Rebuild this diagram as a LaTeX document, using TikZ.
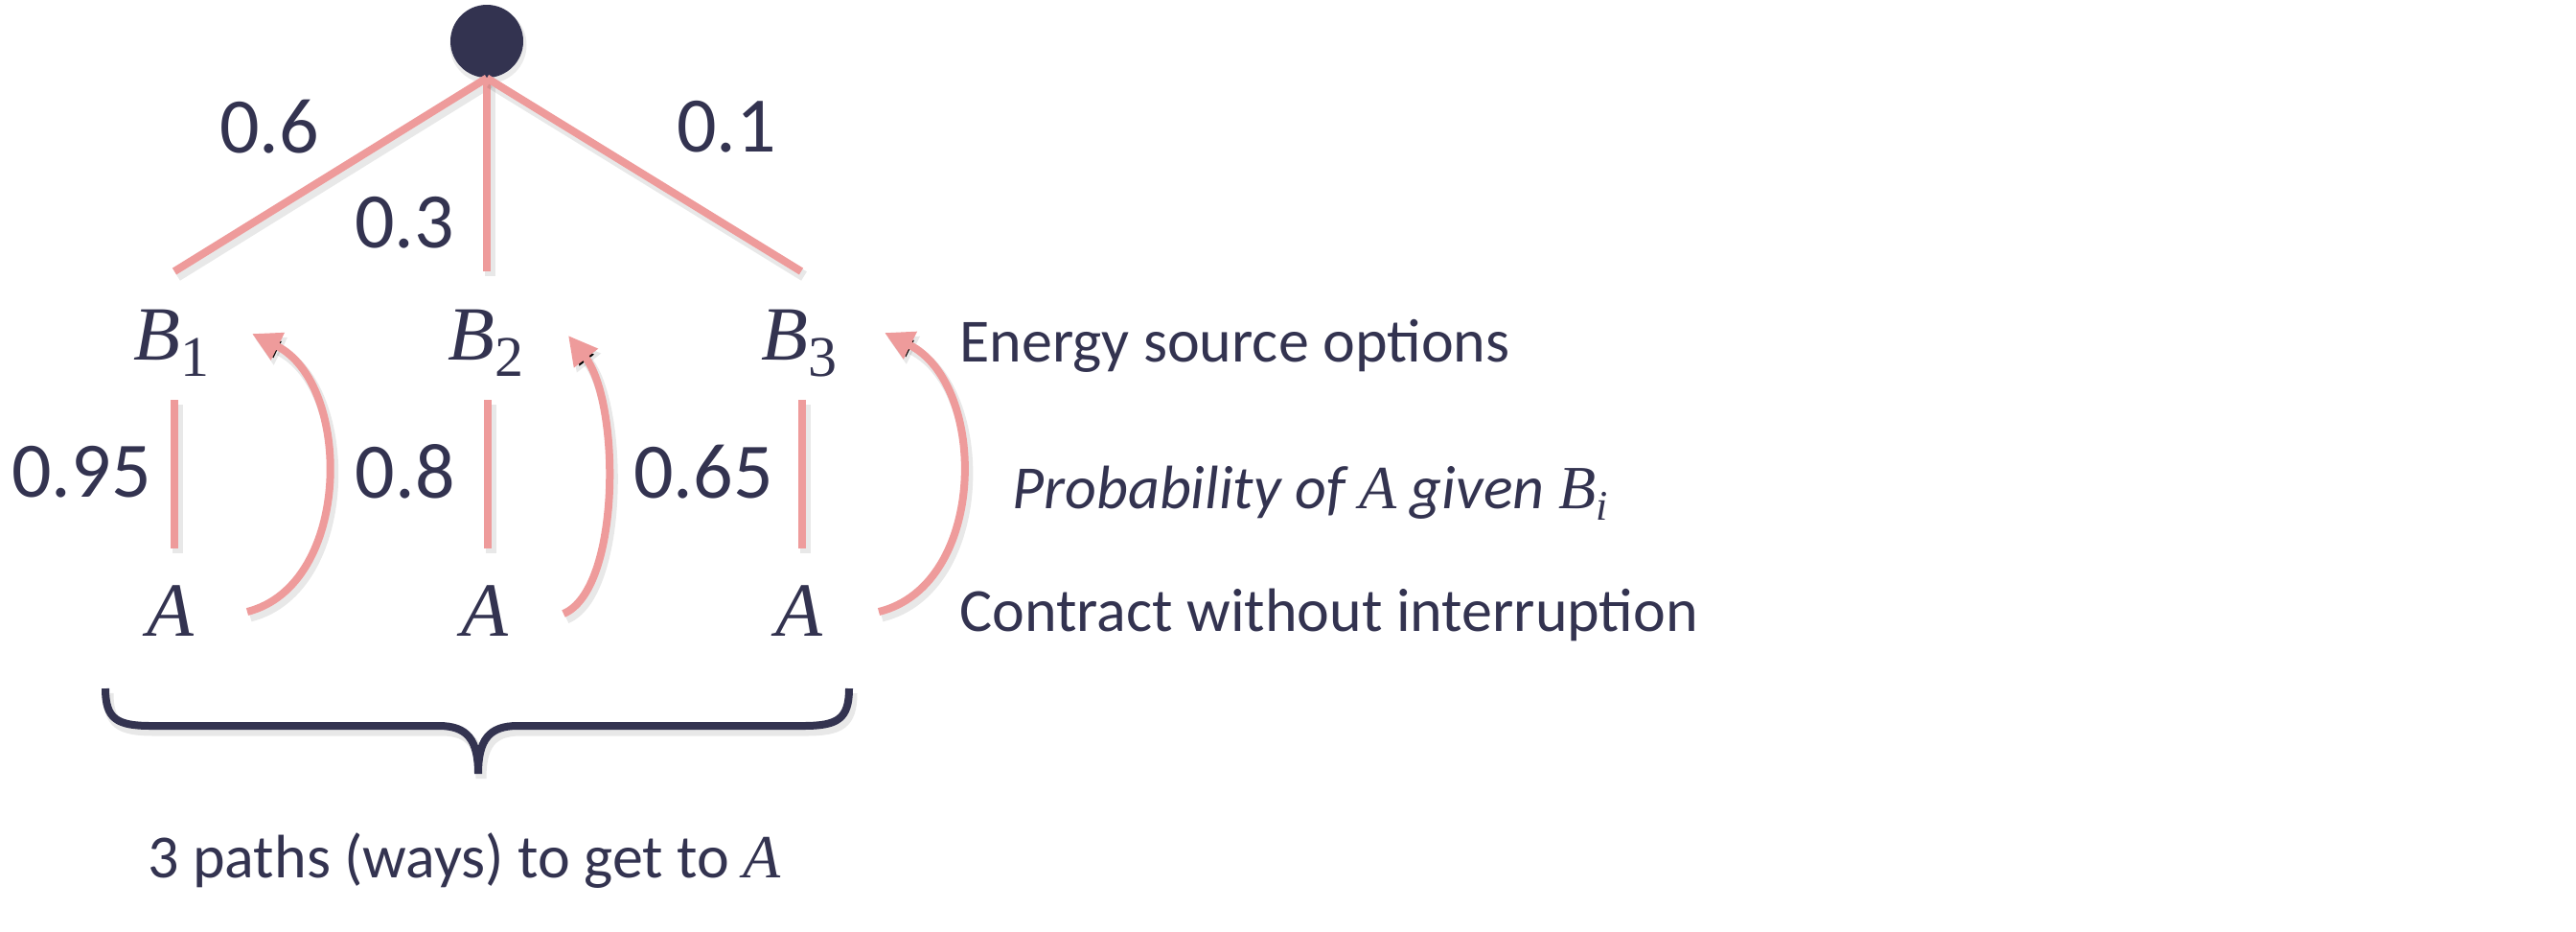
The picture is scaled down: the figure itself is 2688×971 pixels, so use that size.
\documentclass[tikz,border=0pt]{standalone}
\usepackage{fontspec}
\setmainfont{Carlito}
\newfontfamily\mathf{Liberation Serif}
\usetikzlibrary{arrows.meta}
\definecolor{navy}{HTML}{333350}
\definecolor{rose}{HTML}{EE9B9B}
\newcommand{\mvarB}[1]{{\mathf\itshape B}\raisebox{-8.5pt}{\mathf\upshape\fontsize{30}{30}\selectfont #1}}
\begin{document}
\begin{tikzpicture}[x=0.5pt,y=-0.5pt,
  shad/.style={preaction={draw=black,draw opacity=0.09,line width=5.5pt,transform canvas={shift={(1.5pt,-2.5pt)}}}},
  branch/.style={draw=rose,line width=4pt,shad},
  stem/.style={draw=rose,line width=3.6pt,shad},
  curvearrow/.style={draw=rose,line width=4pt,shad,-{Triangle[length=15pt,width=15pt]}},
  num/.style={font=\fontsize{41}{41}\selectfont,text=navy,inner sep=0},
  var/.style={font=\mathf\itshape\fontsize{40}{40}\selectfont,text=navy,inner sep=0,anchor=base},
  note/.style={font=\fontsize{32}{32}\selectfont,text=navy,inner sep=0,anchor=base west},
  bracestyle/.style={draw=navy,line width=4pt,shad}]
\useasboundingbox (0,0) rectangle (2688,971);
\fill[white] (0,0) rectangle (2688,971);

% root
\fill[black,opacity=0.08] (509.5,47) circle (20pt);
\node[circle,fill=navy,inner sep=0,minimum size=38pt] (root) at (508,43) {};

% tree branches
\coordinate (t1) at (182,283);
\coordinate (t2) at (508,283);
\coordinate (t3) at (836,283);
\draw[branch] (root.south) -- (t1);
\draw[branch] (root.south) -- (t2);
\draw[branch] (root.south) -- (t3);
\node[num] (p1) at (281,132) {0.6};
\node[num] (p2) at (422,232) {0.3};
\node[num] (p3) at (758,132) {0.1};

% B nodes
\node[var] (B1) at (179,375) {\mvarB{1}};
\node[var] (B2) at (507,375) {\mvarB{2}};
\node[var] (B3) at (834,375) {\mvarB{3}};

% stems
\coordinate (s1a) at (182,417); \coordinate (s1b) at (182,572);
\coordinate (s2a) at (509,417); \coordinate (s2b) at (509,572);
\coordinate (s3a) at (837,417); \coordinate (s3b) at (837,572);
\draw[stem] (s1a) -- (s1b);
\draw[stem] (s2a) -- (s2b);
\draw[stem] (s3a) -- (s3b);
\node[num,anchor=east] (q1) at (158,492) {0.95};
\node[num,anchor=east] (q2) at (475,492) {0.8};
\node[num,anchor=east] (q3) at (807,492) {0.65};

% A nodes
\node[var] (A1) at (178,663) {A};
\node[var] (A2) at (506,663) {A};
\node[var] (A3) at (834,663) {A};

% curved arrows
\coordinate (c1s) at (258,638); \coordinate (c1e) at (263,348);
\coordinate (c2s) at (588,640); \coordinate (c2e) at (593,350);
\coordinate (c3s) at (917,638); \coordinate (c3e) at (923,347);
\draw[curvearrow] (c1s) .. controls (368,610) and (368,400) .. (c1e);
\draw[curvearrow] (c2s) .. controls (648,615) and (648,420) .. (c2e);
\draw[curvearrow] (c3s) .. controls (1031,610) and (1031,400) .. (c3e);

% notes
\node[note] (n1) at (1001,377) {Energy source options};
\node[note] (n2) at (1056,530) {\itshape Probability of {\mathf A} given {\mathf B}\raisebox{-6pt}{\mathf\itshape\fontsize{22}{22}\selectfont i}};
\node[note] (n3) at (1001,658) {Contract without interruption};

% brace
\coordinate (bl) at (110,718);
\coordinate (bm) at (499,807);
\coordinate (br) at (886,718);
\draw[bracestyle] (bl) .. controls (110,750) and (122,757) .. (158,757) -- (458,757)
   .. controls (488,757) and (499,772) .. (bm)
   .. controls (499,772) and (510,757) .. (540,757) -- (838,757)
   .. controls (874,757) and (886,750) .. (br);
\node[note] (cap) at (154,915) {3 paths (ways) to get to {\mathf\itshape A}};
\end{tikzpicture}
\end{document}
